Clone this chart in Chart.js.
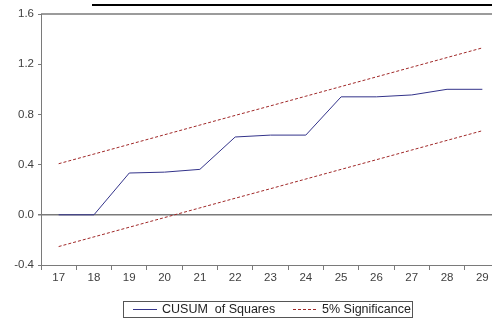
<!DOCTYPE html>
<html>
<head>
<meta charset="utf-8">
<script src="https://cdn.jsdelivr.net/npm/chart.js@4/dist/chart.umd.min.js"></script>
<style>
  html, body { margin: 0; padding: 0; background: #fff; overflow: hidden; }
  #wrap { position: relative; width: 492px; height: 327px; overflow: hidden; }
  #rule { position: absolute; left: 92px; top: 4px; width: 420px; height: 2px; background: #000; }
  canvas { position: absolute; left: 0; top: 0; }
</style>
</head>
<body>
<div id="wrap">
  <canvas id="c" width="500" height="327"></canvas>
  <div id="rule"></div>
</div>
<script>
// Observation index
const categories = ['17','18','19','20','21','22','23','24','25','26','27','28','29'];
// Cumulative sum of squared recursive residuals
const cusumSq = [0, 0, 0.333, 0.34, 0.362, 0.62, 0.635, 0.635, 0.94, 0.94, 0.955, 1.0, 1.0];
// 5% significance bounds
const upperBound = [0.407, 0.484, 0.561, 0.638, 0.715, 0.792, 0.868, 0.945, 1.022, 1.099, 1.176, 1.253, 1.33];
const lowerBound = [-0.253, -0.176, -0.099, -0.022, 0.055, 0.132, 0.208, 0.285, 0.362, 0.439, 0.516, 0.593, 0.67];
// Value axis ticks
const yTicks = [-0.4, 0.0, 0.4, 0.8, 1.2, 1.6];

const seriesNames = ['CUSUM  of Squares', '5% Significance'];
const NAVY = '#33338a';
const RED = '#a02828';
const AXIS = '#7a7a7a';
const TXT = '#404040';
const FONT = "'Liberation Sans', Arial, sans-serif";

// Frame line along the top of the plot area
const topFrame = {
  id: 'topFrame',
  beforeDatasetsDraw(chart) {
    const { ctx, chartArea: a } = chart;
    ctx.save();
    ctx.strokeStyle = AXIS;
    ctx.lineWidth = 1.5;
    ctx.beginPath();
    ctx.moveTo(a.left, a.top);
    ctx.lineTo(a.right, a.top);
    ctx.stroke();
    ctx.restore();
  }
};

// Boxed legend drawn underneath the plot
const boxLegend = {
  id: 'boxLegend',
  afterDraw(chart) {
    const ctx = chart.ctx;
    ctx.save();
    const x0 = 123.5, y0 = 301.5, w = 289, h = 16;
    ctx.strokeStyle = '#555';
    ctx.lineWidth = 1;
    ctx.strokeRect(x0, y0, w, h);
    const cy = y0 + h / 2;
    ctx.strokeStyle = NAVY;
    ctx.beginPath(); ctx.moveTo(133, cy); ctx.lineTo(157, cy); ctx.stroke();
    ctx.strokeStyle = RED;
    ctx.setLineDash([3, 2]);
    ctx.beginPath(); ctx.moveTo(293, cy); ctx.lineTo(316, cy); ctx.stroke();
    ctx.setLineDash([]);
    ctx.fillStyle = '#222';
    ctx.font = '12.5px ' + FONT;
    ctx.textBaseline = 'middle';
    ctx.fillText(seriesNames[0], 162, cy + 0.5);
    ctx.fillText(seriesNames[1], 322, cy + 0.5);
    ctx.restore();
  }
};

new Chart(document.getElementById('c'), {
  type: 'line',
  data: {
    labels: categories,
    datasets: [
      { label: seriesNames[0], data: cusumSq, borderColor: NAVY, borderWidth: 1, pointRadius: 0, tension: 0 },
      { label: seriesNames[1], data: upperBound, borderColor: RED, borderWidth: 1, borderDash: [3, 2], pointRadius: 0, tension: 0 },
      { label: seriesNames[1], data: lowerBound, borderColor: RED, borderWidth: 1, borderDash: [3, 2], pointRadius: 0, tension: 0 }
    ]
  },
  options: {
    responsive: false,
    animation: false,
    events: [],
    layout: { padding: { top: 14, left: 0, right: 0, bottom: 42 } },
    plugins: { legend: { display: false }, tooltip: { enabled: false } },
    scales: {
      x: {
        type: 'category',
        offset: true,
        grid: { display: true, offset: true, drawOnChartArea: false, drawTicks: true, tickLength: 5, color: AXIS, tickColor: AXIS },
        border: { display: true, color: AXIS, width: 1 },
        ticks: { color: TXT, font: { family: FONT, size: 11.5 }, padding: 1, maxRotation: 0, autoSkip: false },
        afterFit(s) { s.height = 20; }
      },
      y: {
        min: -0.4, max: 1.6,
        afterBuildTicks(s) { s.ticks = yTicks.map(v => ({ value: v })); },
        grid: {
          drawTicks: true, tickLength: 3,
          color: c => (c.tick && Math.abs(c.tick.value) < 1e-9) ? AXIS : 'rgba(0,0,0,0)',
          tickColor: AXIS,
          lineWidth: c => (c.tick && Math.abs(c.tick.value) < 1e-9) ? 1.5 : 1
        },
        border: { display: true, color: AXIS, width: 1 },
        ticks: { color: TXT, font: { family: FONT, size: 11.5 }, padding: 4, callback: v => Number(v).toFixed(1) },
        afterFit(s) { s.width = 41; }
      }
    }
  },
  plugins: [topFrame, boxLegend]
});
</script>
</body>
</html>
